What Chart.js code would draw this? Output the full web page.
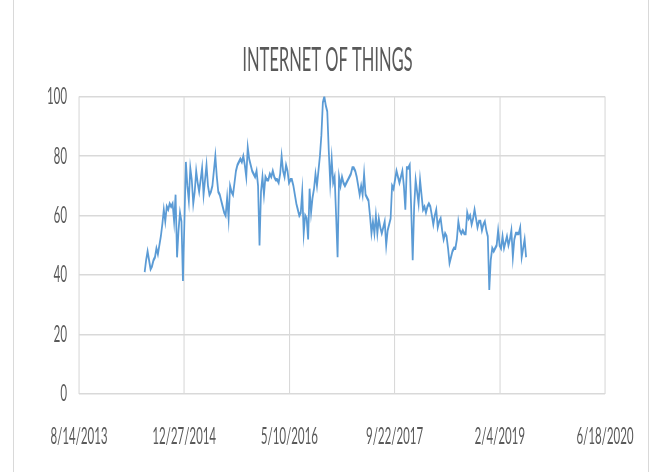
<!DOCTYPE html>
<html>
<head>
<meta charset="utf-8">
<script src="https://cdn.jsdelivr.net/npm/chart.js@4/dist/chart.umd.min.js"></script>
<style>
html, body { margin: 0; padding: 0; background: #fff; overflow: hidden; }
#frame {
    position: absolute; left: 13px; top: -2px; width: 634px; height: 480px;
    border-left: 1px solid #d9d9d9; border-right: 1px solid #d9d9d9;
}
/* the original picture is squeezed sideways, so draw wide and squash it */
#trend {
    position: absolute; left: 0; top: 0; width: 1310px; height: 472px;
    transform: scaleX(0.5); transform-origin: 0 0;
}
</style>
</head>
<body>
<div id="frame"></div>
<canvas id="trend" width="1310" height="472"></canvas>
<script>
// weekly search interest, first week starts 6/22/2014 (Excel serial 41812)
const firstWeek = 41812
const interest = [
    41, 45, 48, 45, 42, 43, 45, 46, 49, 47, 50, 53, 57, 62, 58, 63, 62, 64, 63, 64,
    58, 67, 46, 55, 61, 58, 38, 58, 78, 70, 65, 76, 72, 64, 68, 75, 71, 68, 72, 76,
    67, 72, 77, 70, 67, 68, 70, 75, 80, 73, 68, 67, 65, 63, 61, 60, 66, 59, 70, 68,
    67, 71, 75, 77, 78, 79, 78, 80, 77, 73, 83, 79, 77, 75, 74, 73, 75, 70, 50, 68,
    73, 67, 73, 72, 72, 74, 73, 75, 73, 72, 72, 71, 74, 80, 75, 73, 77, 75, 71, 72,
    72, 70, 67, 64, 62, 60, 61, 68, 54, 60, 59, 52, 69, 61, 66, 69, 74, 70, 75, 80,
    87, 98, 100, 97, 95, 82, 71, 79, 71, 73, 60, 46, 73, 70, 73, 71, 70, 71, 72, 73,
    74, 76, 76, 75, 73, 70, 67, 70, 67, 74, 67, 66, 65, 60, 54, 58, 54, 60, 54, 59,
    56, 54, 56, 58, 50, 55, 57, 59, 70, 69, 72, 75, 73, 71, 73, 75, 70, 62, 76, 76,
    77, 62, 45, 63, 72, 68, 64, 72, 67, 62, 63, 61, 63, 64, 63, 60, 57, 60, 62, 56,
    58, 59, 55, 52, 54, 53, 49, 44, 46, 48, 49, 49, 52, 58, 55, 54, 55, 54, 54, 61,
    59, 60, 57, 59, 62, 59, 56, 58, 58, 55, 57, 58, 55, 53, 35, 45, 49, 48, 49, 50,
    55, 50, 49, 53, 49, 51, 53, 50, 52, 55, 46, 52, 54, 54, 54, 56, 46, 49, 52, 46
]
// x axis runs 8/14/2013 .. 6/18/2020 in Excel serial days
const xMin = 41500
const xMax = 44000
const xStep = 500
const yTicks = [0, 20, 40, 60, 80, 100]

const serialToLabel = (serial) => {
    const d = new Date(Date.UTC(1899, 11, 30) + serial * 86400000)
    return (d.getUTCMonth() + 1) + '/' + d.getUTCDate() + '/' + d.getUTCFullYear()
}

const points = interest.map((v, i) => ({ x: firstWeek + i * 7, y: v }))

const labelFont = { family: 'Lato', size: 23 }
const grey = '#595959'

const trendChart = new Chart(
    document.getElementById('trend').getContext('2d'), {
    type: 'line',
    data: {
        datasets: [{
            data: points,
            borderColor: '#5b9bd5',
            borderWidth: 3.5,
            pointRadius: 0,
            tension: 0,
            fill: false
        }]
    },
    options: {
        responsive: false,
        animation: false,
        layout: { padding: 0 },
        plugins: {
            legend: { display: false },
            tooltip: { enabled: false },
            title: {
                display: true,
                text: 'INTERNET OF THINGS',
                color: grey,
                font: { family: 'Lato', size: 33, weight: 'normal' },
                padding: { top: 41, bottom: 16 }
            }
        },
        scales: {
            x: {
                type: 'linear',
                min: xMin,
                max: xMax,
                border: { display: false },
                grid: { color: '#d9d9d9', lineWidth: 2.2, drawTicks: false },
                ticks: {
                    stepSize: xStep,
                    maxRotation: 0,
                    autoSkip: false,
                    padding: 29,
                    color: grey,
                    font: labelFont,
                    callback: (v) => serialToLabel(v)
                },
                afterFit: (scale) => { scale.height = 78 }
            },
            y: {
                min: yTicks[0],
                max: yTicks[yTicks.length - 1],
                border: { display: false },
                grid: { color: '#d9d9d9', lineWidth: 1.4, drawTicks: false },
                ticks: {
                    stepSize: yTicks[1] - yTicks[0],
                    padding: 24,
                    color: grey,
                    font: labelFont
                },
                afterFit: (scale) => { scale.width = 158 }
            },
            // empty right-hand margin so the title stays centred on the page
            right: {
                position: 'right',
                grid: { display: false },
                border: { display: false },
                ticks: { display: false },
                afterFit: (scale) => { scale.width = 100 }
            }
        }
    }
});
</script>
</body>
</html>
